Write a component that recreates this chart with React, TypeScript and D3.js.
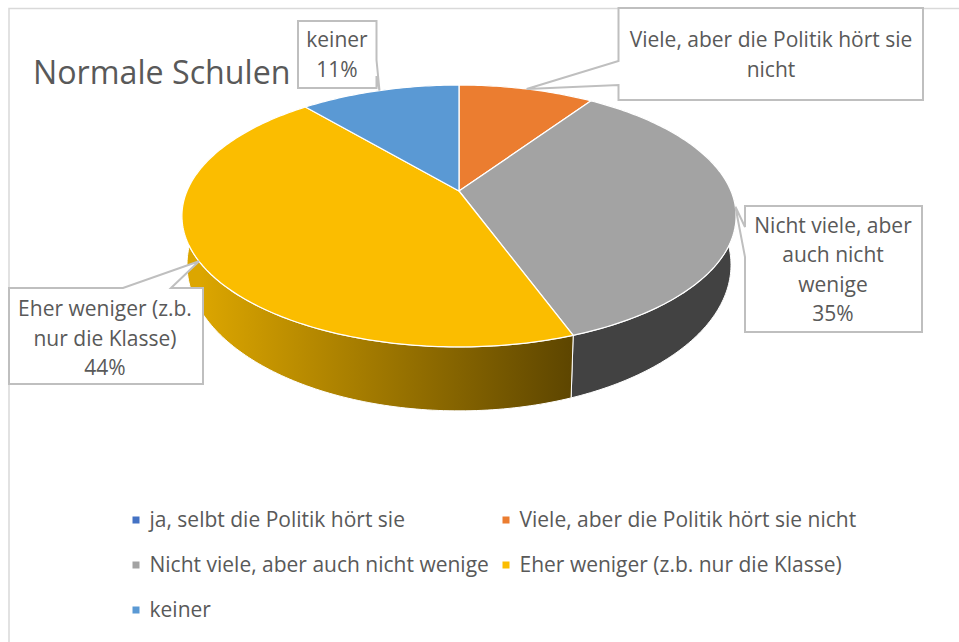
import * as d3 from "d3";
import * as React from "react";

const categories = [
  "ja, selbt die Politik hört sie",
  "Viele, aber die Politik hört sie nicht",
  "Nicht viele, aber auch nicht wenige",
  "Eher weniger (z.b. nur die Klasse)",
  "keiner",
];
const values = [0, 9.5, 34.9, 44.4, 11.2];
const colors = ["#4472c4", "#eb7d30", "#a3a3a3", "#fbbd00", "#5a99d4"];
const wallColors = ["#2a4478", "#8c4a1c", "#424242", "url(#yellowWall)", "#355c80"];
const labelLines = [
  [],
  ["Viele, aber die Politik hört sie", "nicht"],
  ["Nicht viele, aber", "auch nicht", "wenige"],
  ["Eher weniger (z.b.", "nur die Klasse)"],
  ["keiner"],
];
const showPercent = [false, false, true, true, true];

const width = 959;
const height = 642;
const font = "'Open Sans', sans-serif";
const textColor = "#595959";
const boxColor = "#bfbfbf";

// tilted disc: u to the right, v towards the viewer, with some perspective
const cx = 459;
const persp = 0.1908;
const topDisc = { a: 272, b: 126.2, y0: 191 };
const bottomDisc = { a: 267, b: 140.7, y0: 237 };
const project = (angle: number, disc = topDisc): [number, number] => {
  const u = Math.sin(angle);
  const v = -Math.cos(angle);
  const w = 1 - persp * v;
  return [cx + (disc.a * u) / w, disc.y0 + (disc.b * v) / w];
};

const line = d3.line();
const rim = (a0: number, a1: number, disc = topDisc) => {
  const n = Math.max(2, Math.ceil((a1 - a0) * 60));
  return d3.range(n + 1).map((i) => project(a0 + ((a1 - a0) * i) / n, disc));
};

const slices = d3.pie<number>().sort(null).value((d) => d)(values);
const percent = d3.format(".0%");
const total = d3.sum(values);
const color = d3.scaleOrdinal<string, string>().domain(categories).range(colors);

const legendX = d3.scalePoint<number>().domain([0, 1]).range([132.5, 502.5]);
const legendY = d3.scalePoint<number>().domain([0, 1, 2]).range([520, 610]);

// callout boxes: left, top, right, bottom, text centre, first baseline
const boxes: Record<number, { l: number; t: number; r: number; b: number; tx: number; ty: number; dy: number }> = {
  1: { l: 618.5, t: 8, r: 923, b: 100, tx: 771, ty: 47, dy: 30 },
  2: { l: 745, t: 206, r: 922, b: 332, tx: 833, ty: 233, dy: 29.3 },
  3: { l: 9, t: 288, r: 203, b: 384, tx: 105, ty: 316, dy: 29.5 },
  4: { l: 298, t: 21, r: 376.5, b: 88, tx: 337, ty: 47, dy: 30 },
};

const calloutPath = (i: number, tip: [number, number]) => {
  const { l, t, r, b } = boxes[i];
  let pts: [number, number][] = [];
  if (i === 1) pts = [[l, t], [r, t], [r, b], [l, b], [l, 85], tip, [l, 61]];
  if (i === 2) pts = [[l, t], [r, t], [r, b], [l, b], [l, 257], tip, [l, 227]];
  if (i === 3) pts = [[l, t], [123, t], tip, [171, t], [r, t], [r, b], [l, b]];
  if (i === 4) pts = [[l, t], [r, t], [r, 60], tip, [r, 76], [r, b], [l, b]];
  return line(pts) + "Z";
};

export default function App() {
  return (
    <svg
      width={width}
      height={height}
      style={{ position: "absolute", left: 0, top: 0, background: "#fff" }}
      fontFamily={font}
    >
      <defs>
        <linearGradient id="yellowWall" gradientUnits="userSpaceOnUse" x1={200} x2={570} y1={0} y2={0}>
          <stop offset="0" stopColor="#dca600" />
          <stop offset="1" stopColor="#5e4600" />
        </linearGradient>
      </defs>

      <path d={`M9,${height}V8.5H${width}`} fill="none" stroke="#d9d9d9" strokeWidth={1.5} />

      {/* side wall first, the top disc covers the back of it */}
      {slices.map((s, i) =>
        s.endAngle > s.startAngle ? (
          <path
            key={"wall" + i}
            d={line([...rim(s.startAngle, s.endAngle), ...rim(s.startAngle, s.endAngle, bottomDisc).reverse()]) + "Z"}
            fill={wallColors[i]}
            stroke="#fff"
            strokeWidth={1}
          />
        ) : null
      )}
      {slices.map((s, i) =>
        s.endAngle > s.startAngle ? (
          <path
            key={"top" + i}
            d={line([[cx, topDisc.y0], ...rim(s.startAngle, s.endAngle)]) + "Z"}
            fill={color(categories[i])}
            stroke="#fff"
            strokeWidth={1.25}
            strokeLinejoin="round"
          />
        ) : null
      )}

      <text x={33} y={84} fontSize={32.2} fill={textColor}>
        Normale Schulen
      </text>

      {slices.map((s, i) => {
        const box = boxes[i];
        if (!box) return null;
        const tip = project((s.startAngle + s.endAngle) / 2);
        const lines = showPercent[i] ? [...labelLines[i], percent(values[i] / total)] : labelLines[i];
        return (
          <g key={"label" + i}>
            <path d={calloutPath(i, tip)} fill="#fff" stroke={boxColor} strokeWidth={2} />
            {lines.map((t, j) => (
              <text key={j} x={box.tx} y={box.ty + j * box.dy} textAnchor="middle" fontSize={21} fill={textColor}>
                {t}
              </text>
            ))}
          </g>
        );
      })}

      {categories.map((c, i) => {
        const x = legendX(i === 4 ? 0 : i % 2)!;
        const y = legendY(Math.floor(i / 2))!;
        return (
          <g key={c}>
            <rect x={x} y={y - 3.5} width={7} height={7} fill={color(c)} />
            <text x={x + 17} y={y + 6.5} fontSize={21} fill={textColor}>
              {c}
            </text>
          </g>
        );
      })}
    </svg>
  );
}
